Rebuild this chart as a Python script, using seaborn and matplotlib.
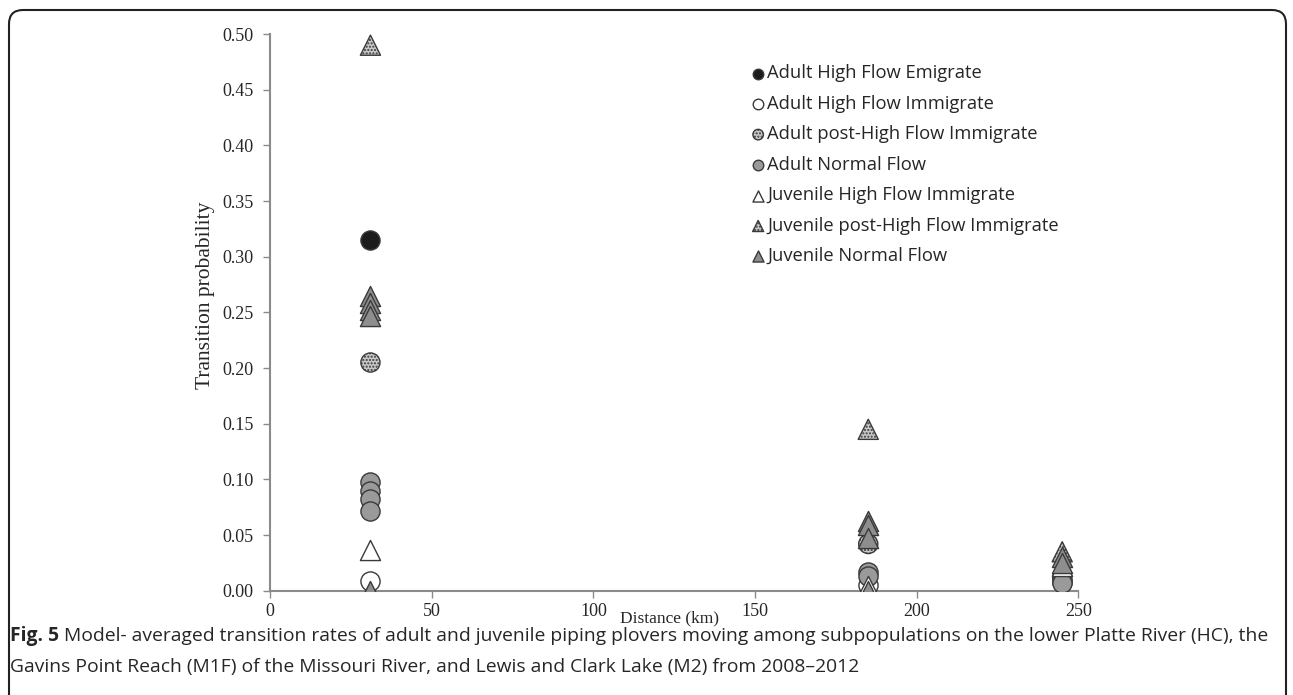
import matplotlib
matplotlib.use('agg')
import matplotlib.pyplot as plt
from matplotlib.patches import FancyBboxPatch
import matplotlib.transforms as mtransforms
import seaborn as sns

# distances (km) and transition probabilities per group
adult_hf_emig_km = [31]
adult_hf_emig_p = [0.315]
adult_hf_imm_km = [31, 185, 245]
adult_hf_imm_p = [0.009, 0.005, 0.008]
adult_phf_imm_km = [31, 185, 245]
adult_phf_imm_p = [0.205, 0.042, 0.012]
adult_normal_km = [31, 31, 31, 31, 185, 185, 245, 245]
adult_normal_p = [0.098, 0.090, 0.082, 0.072, 0.017, 0.013, 0.010, 0.007]
juv_hf_imm_km = [31, 185, 245]
juv_hf_imm_p = [0.037, 0.004, 0.022]
juv_phf_imm_km = [31, 185, 245]
juv_phf_imm_p = [0.490, 0.145, 0.035]
juv_normal_km = [31, 31, 31, 31, 31, 185, 185, 185, 185, 245, 245]
juv_normal_p = [0.265, 0.258, 0.252, 0.247, 0.0, 0.063, 0.059, 0.047, 0.0, 0.030, 0.025]

x_ticks = [0, 50, 100, 150, 200, 250]
y_ticks = [0.0, 0.05, 0.10, 0.15, 0.20, 0.25, 0.30, 0.35, 0.40, 0.45, 0.50]

sns.set_style("white")
serif = ['Liberation Serif', 'DejaVu Serif']
sans = ['Open Sans', 'DejaVu Sans']

fig = plt.figure(figsize=(12.93, 6.95), dpi=100)
ax = fig.add_axes([0.209, 0.150, 0.625, 0.801])

groups = [
    (adult_hf_emig_km, adult_hf_emig_p, 'o', '#1c1c1c', None, 'Adult High Flow Emigrate'),
    (adult_hf_imm_km, adult_hf_imm_p, 'o', 'white', None, 'Adult High Flow Immigrate'),
    (adult_phf_imm_km, adult_phf_imm_p, 'o', '#c8c8c8', '.....', 'Adult post-High Flow Immigrate'),
    (adult_normal_km, adult_normal_p, 'o', '#9a9a9a', None, 'Adult Normal Flow'),
    (juv_hf_imm_km, juv_hf_imm_p, '^', 'white', None, 'Juvenile High Flow Immigrate'),
    (juv_phf_imm_km, juv_phf_imm_p, '^', '#c8c8c8', '.....', 'Juvenile post-High Flow Immigrate'),
    (juv_normal_km, juv_normal_p, '^', '#8e8e8e', None, 'Juvenile Normal Flow'),
]
for km, p, mk, col, hatch, lab in groups:
    kw = {}
    if hatch:
        kw['hatch'] = hatch
    sns.scatterplot(x=km, y=p, ax=ax, marker=mk, s=190 if mk == 'o' else 210,
                    color=col, edgecolor='#3a3a3a', linewidth=1.0, label=lab,
                    zorder=3, **kw)

ax.set_xlim(0, 250)
ax.set_ylim(0, 0.5)
ax.set_xticks(x_ticks)
ax.set_yticks(y_ticks)
ax.set_yticklabels(['%.2f' % v for v in y_ticks], family=serif, fontsize=13)
ax.set_xticklabels([str(v) for v in x_ticks], family=serif, fontsize=13)
for s in ['top', 'right']:
    ax.spines[s].set_visible(False)
for s in ['left', 'bottom']:
    ax.spines[s].set_color('#8a8a8a')
    ax.spines[s].set_linewidth(1.5)
ax.tick_params(axis='y', direction='out', length=5, width=1, color='#8a8a8a', left=True, pad=7)
ax.tick_params(axis='x', direction='out', length=5, width=1, color='#8a8a8a', bottom=True, pad=4)
ax.set_ylabel('Transition probability', family=serif, fontsize=15.5)
ax.yaxis.set_label_coords(-0.068, 0.53)
ax.set_xlabel('')
ax.text(0.494, -0.05, 'Distance (km)', transform=ax.transAxes, ha='center', va='center',
        family=serif, fontsize=12.5)

leg = ax.legend(loc='upper left', bbox_to_anchor=(0.572, 0.975), frameon=False,
                markerscale=0.55, handletextpad=0.0, handlelength=1.0,
                labelspacing=0.68, prop={'family': sans, 'size': 13.2})

# rounded frame, open at the bottom
fig.patches.append(FancyBboxPatch((9, -40), 1277, 725, boxstyle='round,pad=0,rounding_size=14',
                                  transform=None, fill=False, edgecolor='#222222', linewidth=1.5))

# caption: bold "Fig. 5" then the rest right after it
y1 = 1 - 636 / 695
y2 = 1 - 667 / 695
t = fig.text(10 / 1293, y1, 'Fig. 5', fontsize=13.85, fontweight='bold', va='center', family=sans)
fig.canvas.draw()
w = t.get_window_extent().width
fig.text(10 / 1293, y1,
         'Model- averaged transition rates of adult and juvenile piping plovers moving among subpopulations on the lower Platte River (HC), the',
         fontsize=13.85, va='center', family=sans,
         transform=fig.transFigure + mtransforms.Affine2D().translate(w + 5, 0))
fig.text(10 / 1293, y2,
         'Gavins Point Reach (M1F) of the Missouri River, and Lewis and Clark Lake (M2) from 2008\u20132012',
         fontsize=13.85, va='center', family=sans)

plt.savefig('out.png', dpi=100)
